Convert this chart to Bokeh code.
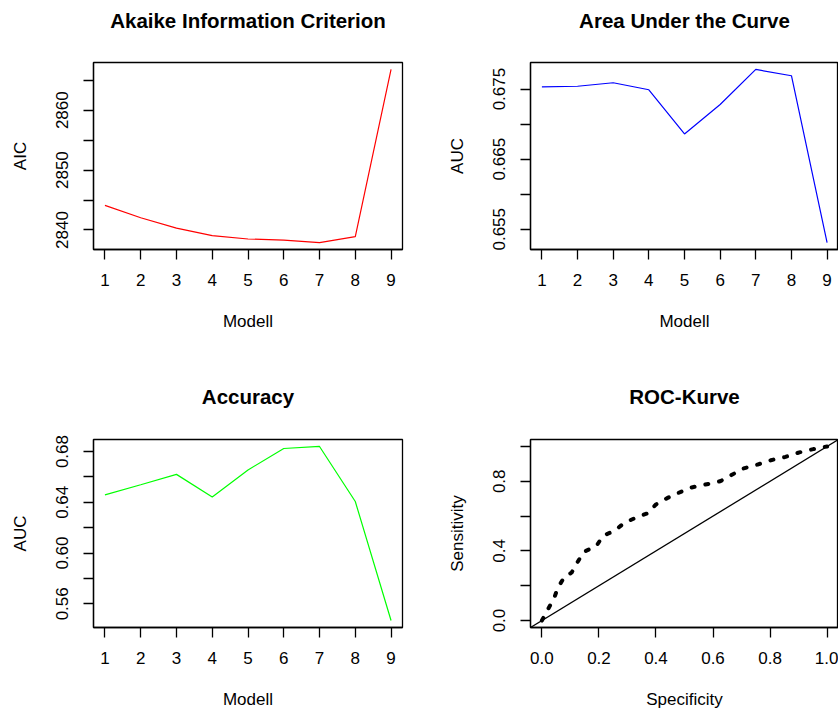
from bokeh.plotting import figure
from bokeh.layouts import column, row
from bokeh.models import Range1d, FixedTicker, Slope, ColumnDataSource, Title
from bokeh.embed import file_html
from bokeh.resources import INLINE

# ---------------- data ----------------
modell = [1, 2, 3, 4, 5, 6, 7, 8, 9]
aic = [2844.1, 2842.05, 2840.3, 2839.05, 2838.5, 2838.3, 2837.9, 2838.9, 2866.8]
auc = [0.6753, 0.6754, 0.6759, 0.6749, 0.6686, 0.6728, 0.6778, 0.6769, 0.6531]
accuracy = [0.6458, 0.6538, 0.6620, 0.6442, 0.6655, 0.6824, 0.6840, 0.6406, 0.5468]

roc_specificity = [0.0, 0.021, 0.042, 0.056, 0.079, 0.104, 0.124, 0.147, 0.19, 0.215,
                   0.256, 0.287, 0.328, 0.372, 0.4, 0.439, 0.48, 0.52, 0.573, 0.625,
                   0.664, 0.705, 0.756, 0.803, 0.854, 0.903, 0.952, 1.0]
roc_sensitivity = [0.0, 0.064, 0.125, 0.189, 0.25, 0.275, 0.333, 0.395, 0.426, 0.488,
                   0.516, 0.559, 0.59, 0.617, 0.667, 0.703, 0.734, 0.763, 0.781, 0.8,
                   0.835, 0.873, 0.896, 0.921, 0.94, 0.966, 0.985, 1.0]

modell_ticks = [1, 2, 3, 4, 5, 6, 7, 8, 9]
modell_tick_labels = ["1", "2", "3", "4", "5", "6", "7", "8", "9"]
aic_ticks = [2840, 2845, 2850, 2855, 2860, 2865]
aic_tick_labels = ["2840", "", "2850", "", "2860", ""]
auc_ticks = [0.655, 0.66, 0.665, 0.67, 0.675]
auc_tick_labels = ["0.655", "", "0.665", "", "0.675"]
acc_ticks = [0.56, 0.58, 0.6, 0.62, 0.64, 0.66, 0.68]
acc_tick_labels = ["0.56", "", "0.60", "", "0.64", "", "0.68"]
roc_x_ticks = [0.0, 0.2, 0.4, 0.6, 0.8, 1.0]
roc_x_tick_labels = ["0.0", "0.2", "0.4", "0.6", "0.8", "1.0"]
roc_y_ticks = [0.0, 0.2, 0.4, 0.6, 0.8, 1.0]
roc_y_tick_labels = ["0.0", "", "0.4", "", "0.8", ""]

FONT = "Liberation Sans"


def padded(vals):
    lo, hi = min(vals), max(vals)
    r = hi - lo
    return Range1d(lo - 0.04 * r, hi + 0.04 * r)


def make_fig(title, xlabel, ylabel, width, height, left, right, top, bottom,
             x_range, y_range, xt, xtl, yt, ytl, title_gap):
    p = figure(width=width, height=height, x_range=x_range, y_range=y_range,
               output_backend="svg", toolbar_location=None, title=None,
               min_border_left=left, min_border_right=right,
               min_border_top=top, min_border_bottom=bottom)
    p.grid.visible = False
    p.background_fill_color = "white"
    p.border_fill_color = "white"
    p.outline_line_color = "black"
    p.outline_line_width = 1.3
    # spacer between frame and title, then the real title further out
    p.add_layout(Title(text=" ", text_font_size="1px", standoff=title_gap), "above")
    p.add_layout(Title(text=title, align="center", text_font=FONT,
                       text_font_size="20.5px", text_font_style="bold",
                       text_color="black", standoff=0), "above")
    p.xaxis.axis_label = xlabel
    p.yaxis.axis_label = ylabel
    for ax, ticks, labels in ((p.xaxis[0], xt, xtl), (p.yaxis[0], yt, ytl)):
        ax.ticker = FixedTicker(ticks=ticks, minor_ticks=[])
        ax.major_label_overrides = dict(zip(ticks, labels))
        ax.major_tick_out = 10
        ax.major_tick_in = 0
        ax.minor_tick_out = 0
        ax.minor_tick_in = 0
        ax.major_tick_line_color = "black"
        ax.major_tick_line_width = 1.3
        ax.axis_line_color = "black"
        ax.axis_line_width = 1.3
        ax.major_label_text_font = FONT
        ax.major_label_text_font_size = "17px"
        ax.major_label_text_color = "black"
        ax.axis_label_text_font = FONT
        ax.axis_label_text_font_size = "17px"
        ax.axis_label_text_font_style = "normal"
        ax.axis_label_text_color = "black"
    p.xaxis.major_label_standoff = 14
    p.xaxis.axis_label_standoff = 23
    p.yaxis.major_label_standoff = 15
    p.yaxis.axis_label_standoff = 24
    p.yaxis.major_label_orientation = "vertical"
    return p


src = ColumnDataSource(dict(modell=modell, aic=aic, auc=auc, accuracy=accuracy))

p1 = make_fig("Akaike Information Criterion", "Modell", "AIC", 419, 355, 93, 17, 62, 106,
              padded(modell), padded(aic), modell_ticks, modell_tick_labels,
              aic_ticks, aic_tick_labels, 28)
p1.line("modell", "aic", source=src, line_color="#FF0000", line_width=1.2)

p2 = make_fig("Area Under the Curve", "Modell", "AUC", 419, 355, 111, 0, 62, 106,
              padded(modell), padded(auc), modell_ticks, modell_tick_labels,
              auc_ticks, auc_tick_labels, 28)
p2.line("modell", "auc", source=src, line_color="#0000FF", line_width=1.2)

p3 = make_fig("Accuracy", "Modell", "AUC", 419, 356, 93, 17, 84, 84,
              padded(modell), padded(accuracy), modell_ticks, modell_tick_labels,
              acc_ticks, acc_tick_labels, 29)
p3.line("modell", "accuracy", source=src, line_color="#00FF00", line_width=1.2)

p4 = make_fig("ROC-Kurve", "Specificity", "Sensitivity", 419, 356, 111, 0, 84, 84,
              padded([0.0, 1.0]), padded([0.0, 1.0]), roc_x_ticks, roc_x_tick_labels,
              roc_y_ticks, roc_y_tick_labels, 29)
p4.add_layout(Slope(gradient=1, y_intercept=0, line_color="black", line_width=1.3))
p4.line(roc_specificity, roc_sensitivity, line_color="black", line_width=4,
        line_dash="3 11", line_cap="round")

layout = column(row(p1, p2, spacing=0), row(p3, p4, spacing=0), spacing=0)

with open("out.html", "w") as f:
    f.write(file_html(layout, INLINE))
